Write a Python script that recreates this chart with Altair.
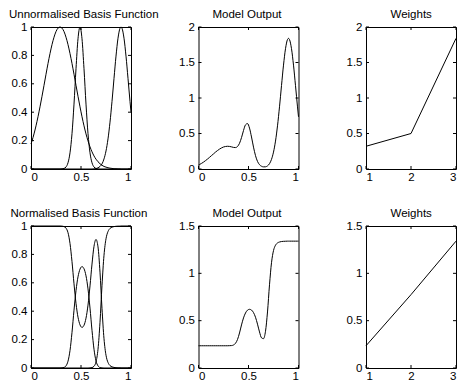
import altair as alt
import pandas as pd

FONT = "Liberation Sans"
PW, PH = 100, 142
PW_LAST = 90
TICK = 3

# sample positions along the input axis
x_grid = [0.00, 0.01, 0.03, 0.05, 0.07, 0.09, 0.11, 0.13, 0.15, 0.17,
          0.19, 0.21, 0.23, 0.25, 0.27, 0.29, 0.31, 0.33, 0.35, 0.37,
          0.39, 0.41, 0.43, 0.45, 0.47, 0.49, 0.51, 0.53, 0.55, 0.57,
          0.59, 0.61, 0.63, 0.65, 0.67, 0.69, 0.71, 0.73, 0.75, 0.77,
          0.79, 0.81, 0.83, 0.85, 0.87, 0.89, 0.90, 0.91, 0.93, 0.95,
          0.97, 0.99, 1.00]

# unnormalised basis functions
basis_a = [0.176, 0.198, 0.247, 0.304, 0.368, 0.438, 0.512, 0.589, 0.667, 0.743,
           0.813, 0.876, 0.928, 0.968, 0.992, 1.000, 0.992, 0.968, 0.928, 0.876,
           0.813, 0.743, 0.667, 0.589, 0.512, 0.438, 0.368, 0.304, 0.247, 0.198,
           0.156, 0.121, 0.092, 0.069, 0.051, 0.037, 0.026, 0.018, 0.013, 0.009,
           0.006, 0.004, 0.002, 0.002, 0.001, 0.001, 0.000, 0.000, 0.000, 0.000,
           0.000, 0.000, 0.000]
basis_b = [0, 0, 0, 0, 0, 0, 0, 0, 0, 0,
           0, 0, 0, 0, 0, 0, 0.001, 0.004, 0.014, 0.044,
           0.114, 0.249, 0.457, 0.706, 0.917, 1.000, 0.917, 0.706, 0.457, 0.249,
           0.114, 0.044, 0.014, 0.004, 0.001, 0, 0, 0, 0, 0,
           0, 0, 0, 0, 0, 0, 0, 0, 0, 0,
           0, 0, 0]
basis_c = [0, 0, 0, 0, 0, 0, 0, 0, 0, 0,
           0, 0, 0, 0, 0, 0, 0, 0, 0, 0,
           0, 0, 0, 0, 0, 0, 0, 0, 0, 0,
           0.000, 0.000, 0.001, 0.003, 0.008, 0.018, 0.036, 0.071, 0.127, 0.212,
           0.330, 0.476, 0.638, 0.795, 0.921, 0.991, 1.000, 0.991, 0.921, 0.795,
           0.638, 0.476, 0.400]
output_top = [0.056, 0.063, 0.079, 0.097, 0.118, 0.140, 0.164, 0.189, 0.213, 0.238,
              0.260, 0.280, 0.297, 0.310, 0.317, 0.320, 0.318, 0.312, 0.304, 0.302,
              0.317, 0.362, 0.442, 0.542, 0.622, 0.640, 0.576, 0.451, 0.308, 0.188,
              0.107, 0.061, 0.039, 0.030, 0.031, 0.044, 0.075, 0.136, 0.238, 0.393,
              0.608, 0.876, 1.175, 1.463, 1.694, 1.824, 1.840, 1.823, 1.694, 1.463,
              1.174, 0.875, 0.735]

# normalised basis functions
norm_a = [1, 1, 1, 1, 1, 1, 1, 1, 1, 1,
          1, 1, 1, 1, 1, 1.000, 0.999, 0.996, 0.985, 0.953,
          0.877, 0.749, 0.593, 0.455, 0.358, 0.304, 0.286, 0.301, 0.351, 0.443,
          0.578, 0.732, 0.857, 0.905, 0.853, 0.675, 0.418, 0.206, 0.090, 0.039,
          0.017, 0.008, 0.004, 0.002, 0.001, 0.001, 0, 0, 0, 0,
          0, 0, 0]
norm_b = [0, 0, 0, 0, 0, 0, 0, 0, 0, 0,
          0, 0, 0, 0, 0, 0.000, 0.001, 0.004, 0.015, 0.048,
          0.123, 0.251, 0.407, 0.545, 0.642, 0.696, 0.714, 0.699, 0.649, 0.557,
          0.422, 0.265, 0.132, 0.050, 0.015, 0.003, 0.001, 0, 0, 0,
          0, 0, 0, 0, 0, 0, 0, 0, 0, 0,
          0, 0, 0]
norm_c = [0, 0, 0, 0, 0, 0, 0, 0, 0, 0,
          0, 0, 0, 0, 0, 0, 0, 0, 0, 0,
          0, 0, 0, 0, 0, 0, 0, 0, 0, 0.000,
          0.001, 0.003, 0.012, 0.043, 0.132, 0.322, 0.582, 0.794, 0.910, 0.961,
          0.983, 0.992, 0.996, 0.998, 0.999, 0.999, 1, 1, 1, 1,
          1, 1, 1]
output_bottom = [0.235, 0.235, 0.235, 0.235, 0.235, 0.235, 0.235, 0.235, 0.235, 0.235,
                 0.235, 0.235, 0.235, 0.235, 0.235, 0.235, 0.236, 0.237, 0.243, 0.261,
                 0.301, 0.370, 0.455, 0.529, 0.581, 0.611, 0.620, 0.612, 0.585, 0.536,
                 0.463, 0.381, 0.319, 0.310, 0.388, 0.592, 0.879, 1.112, 1.240, 1.297,
                 1.321, 1.331, 1.336, 1.338, 1.339, 1.340, 1.340, 1.340, 1.340, 1.340,
                 1.340, 1.340, 1.340]

weight_index = [1, 2, 3]
weights_top = [0.32, 0.50, 1.84]
weights_bottom = [0.235, 0.775, 1.34]

x_ticks_unit = [0, 0.5, 1]
x_ticks_weight = [1, 2, 3]
y_ticks_basis = [0, 0.2, 0.4, 0.6, 0.8, 1]
y_ticks_two = [0, 0.5, 1, 1.5, 2]
y_ticks_onehalf = [0, 0.5, 1, 1.5]


def long_df(series):
    frames = []
    for name, vals in series.items():
        frames.append(pd.DataFrame({"x": x_grid, "y": vals, "s": name}))
    return pd.concat(frames, ignore_index=True)


def panel(df, title, title_dx, xdom, ydom, xticks, yticks, interp="monotone", pw=PW):
    xs = alt.Scale(domain=xdom, nice=False, zero=False)
    ys = alt.Scale(domain=ydom, nice=False, zero=False)
    xa = alt.Axis(values=xticks, format="~g", title=None)
    ya = alt.Axis(values=yticks, format="~g", title=None)
    line = alt.Chart(df).mark_line(color="black", strokeWidth=1, interpolate=interp).encode(
        x=alt.X("x:Q", scale=xs, axis=xa),
        y=alt.Y("y:Q", scale=ys, axis=ya),
        detail="s:N",
    )
    xt = pd.DataFrame({"t": xticks})
    yt = pd.DataFrame({"t": yticks})
    rule = dict(color="black", strokeWidth=1)
    bottom = alt.Chart(xt).mark_rule(**rule).encode(
        x=alt.X("t:Q", scale=xs, axis=xa), y=alt.value(PH), y2=alt.value(PH - TICK))
    top = alt.Chart(xt).mark_rule(**rule).encode(
        x=alt.X("t:Q", scale=xs, axis=xa), y=alt.value(0), y2=alt.value(TICK))
    left = alt.Chart(yt).mark_rule(**rule).encode(
        y=alt.Y("t:Q", scale=ys, axis=ya), x=alt.value(0), x2=alt.value(TICK))
    right = alt.Chart(yt).mark_rule(**rule).encode(
        y=alt.Y("t:Q", scale=ys, axis=ya), x=alt.value(pw), x2=alt.value(pw - TICK))
    return alt.layer(line, bottom, top, left, right).properties(
        width=pw, height=PH,
        title=alt.Title(title, fontSize=11.5, fontWeight="normal", font=FONT,
                        color="black", offset=0.5, anchor="start", frame="group",
                        dx=title_dx),
    )


p1 = panel(long_df({"a": basis_a, "b": basis_b, "c": basis_c}),
           "Unnormalised Basis Function", -22, [0, 1], [0, 1], x_ticks_unit, y_ticks_basis)
p2 = panel(long_df({"o": output_top}), "Model Output", 14, [0, 1], [0, 2],
           x_ticks_unit, y_ticks_two)
p3 = panel(pd.DataFrame({"x": weight_index, "y": weights_top, "s": "w"}), "Weights", 24.5,
           [1, 3], [0, 2], x_ticks_weight, y_ticks_two, interp="linear", pw=PW_LAST)
p4 = panel(long_df({"a": norm_a, "b": norm_b, "c": norm_c}),
           "Normalised Basis Function", -20.5, [0, 1], [0, 1], x_ticks_unit, y_ticks_basis)
p5 = panel(long_df({"o": output_bottom}), "Model Output", 14, [0, 1], [0, 1.5],
           x_ticks_unit, y_ticks_onehalf)
p6 = panel(pd.DataFrame({"x": weight_index, "y": weights_bottom, "s": "w"}), "Weights", 24.5,
           [1, 3], [0, 1.5], x_ticks_weight, y_ticks_onehalf, interp="linear", pw=PW_LAST)

chart = (
    alt.concat(p1, p2, p3, p4, p5, p6, columns=3,
               spacing={"row": 57, "column": 67.5}, bounds="flush")
    .properties(padding={"left": 0, "top": 0, "right": -2.5, "bottom": 0},
                background="white")
    .configure_view(stroke="black", strokeWidth=1)
    .configure_axis(labelFont=FONT, labelFontSize=11.5, labelColor="black",
                    ticks=False, tickSize=0, domain=False, grid=False)
    .configure_axisX(labelPadding=2.5)
    .configure_axisY(labelPadding=4)
)

chart.save("out.html", embed_options={"renderer": "svg", "actions": False})
